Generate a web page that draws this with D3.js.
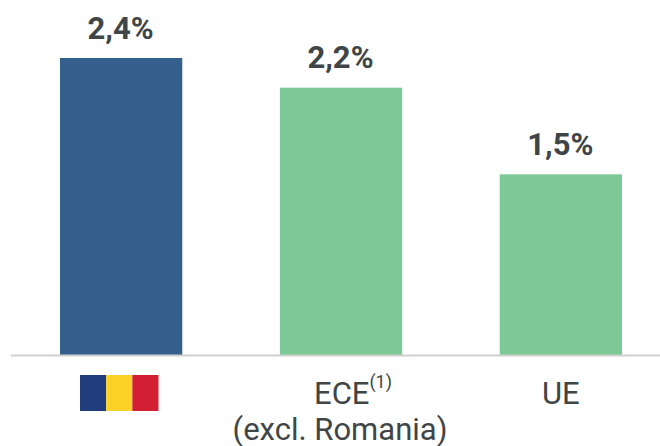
<!DOCTYPE html>
<html>
<head>
<meta charset="utf-8">
<script src="https://cdn.jsdelivr.net/npm/d3@7"></script>
<style>
    body { margin: 0; background: #fff; }
    svg { display: block; }
    text { font-family: Roboto, sans-serif; fill: #404547; }
</style>
</head>
<body>
<div id="chart"></div>
<script>
const categories = ['Romania', 'ECE', 'UE'];
// bar heights as measured, the labels are the rounded printed values
const values = [2.4, 2.16, 1.46];
const valueLabels = ['2,4%', '2,2%', '1,5%'];
const barColors = ['#355f8d', '#7dc995', '#7dc995'];
const flagColors = ['#1f3d7a', '#fbd128', '#d21f33'];

const width = 660;
const height = 446;
const baseline = 355;

const x = d3.scaleBand()
    .domain(categories)
    .range([60, 622])
    .paddingInner(0.444)
    .paddingOuter(0);

const y = d3.scaleLinear()
    .domain([0, 2.4])
    .range([baseline, 58]);

const svg = d3.select('#chart')
    .append('svg')
    .attr('width', width)
    .attr('height', height);

// bars
svg.selectAll('rect.bar')
    .data(categories)
    .join('rect')
    .attr('class', 'bar')
    .attr('x', d => x(d))
    .attr('y', (d, i) => y(values[i]))
    .attr('width', x.bandwidth())
    .attr('height', (d, i) => baseline - y(values[i]))
    .attr('fill', (d, i) => barColors[i]);

// value labels
svg.selectAll('text.value')
    .data(categories)
    .join('text')
    .attr('class', 'value')
    .attr('x', d => x(d) + x.bandwidth() / 2 - 0.5)
    .attr('y', (d, i) => y(values[i]) - 19.5)
    .attr('text-anchor', 'middle')
    .attr('font-size', '31px')
    .attr('font-weight', 'bold')
    .text((d, i) => valueLabels[i]);

// axis line
svg.append('line')
    .attr('x1', 11)
    .attr('x2', width)
    .attr('y1', baseline + 0.5)
    .attr('y2', baseline + 0.5)
    .attr('stroke', '#cfd0d0')
    .attr('stroke-width', 2);

// flag instead of a text label for the first bar
const flagX = d3.scaleBand().domain(flagColors).range([80, 158.5]);
svg.selectAll('rect.flag')
    .data(flagColors)
    .join('rect')
    .attr('class', 'flag')
    .attr('x', d => flagX(d))
    .attr('y', 375)
    .attr('width', flagX.bandwidth())
    .attr('height', 36)
    .attr('fill', d => d);

// category labels
const ece = svg.append('text')
    .attr('x', x('ECE') + x.bandwidth() / 2 + 12)
    .attr('y', 404)
    .attr('text-anchor', 'middle')
    .attr('font-size', '31px');
ece.append('tspan').text('ECE');
ece.append('tspan')
    .attr('font-size', '18px')
    .attr('dy', -16)
    .text('(1)');

svg.append('text')
    .attr('x', x('ECE') + x.bandwidth() / 2 - 1)
    .attr('y', 439.5)
    .attr('text-anchor', 'middle')
    .attr('font-size', '31px')
    .text('(excl. Romania)');

svg.append('text')
    .attr('x', x('UE') + x.bandwidth() / 2)
    .attr('y', 404)
    .attr('text-anchor', 'middle')
    .attr('font-size', '31px')
    .text('UE');
</script>
</body>
</html>
